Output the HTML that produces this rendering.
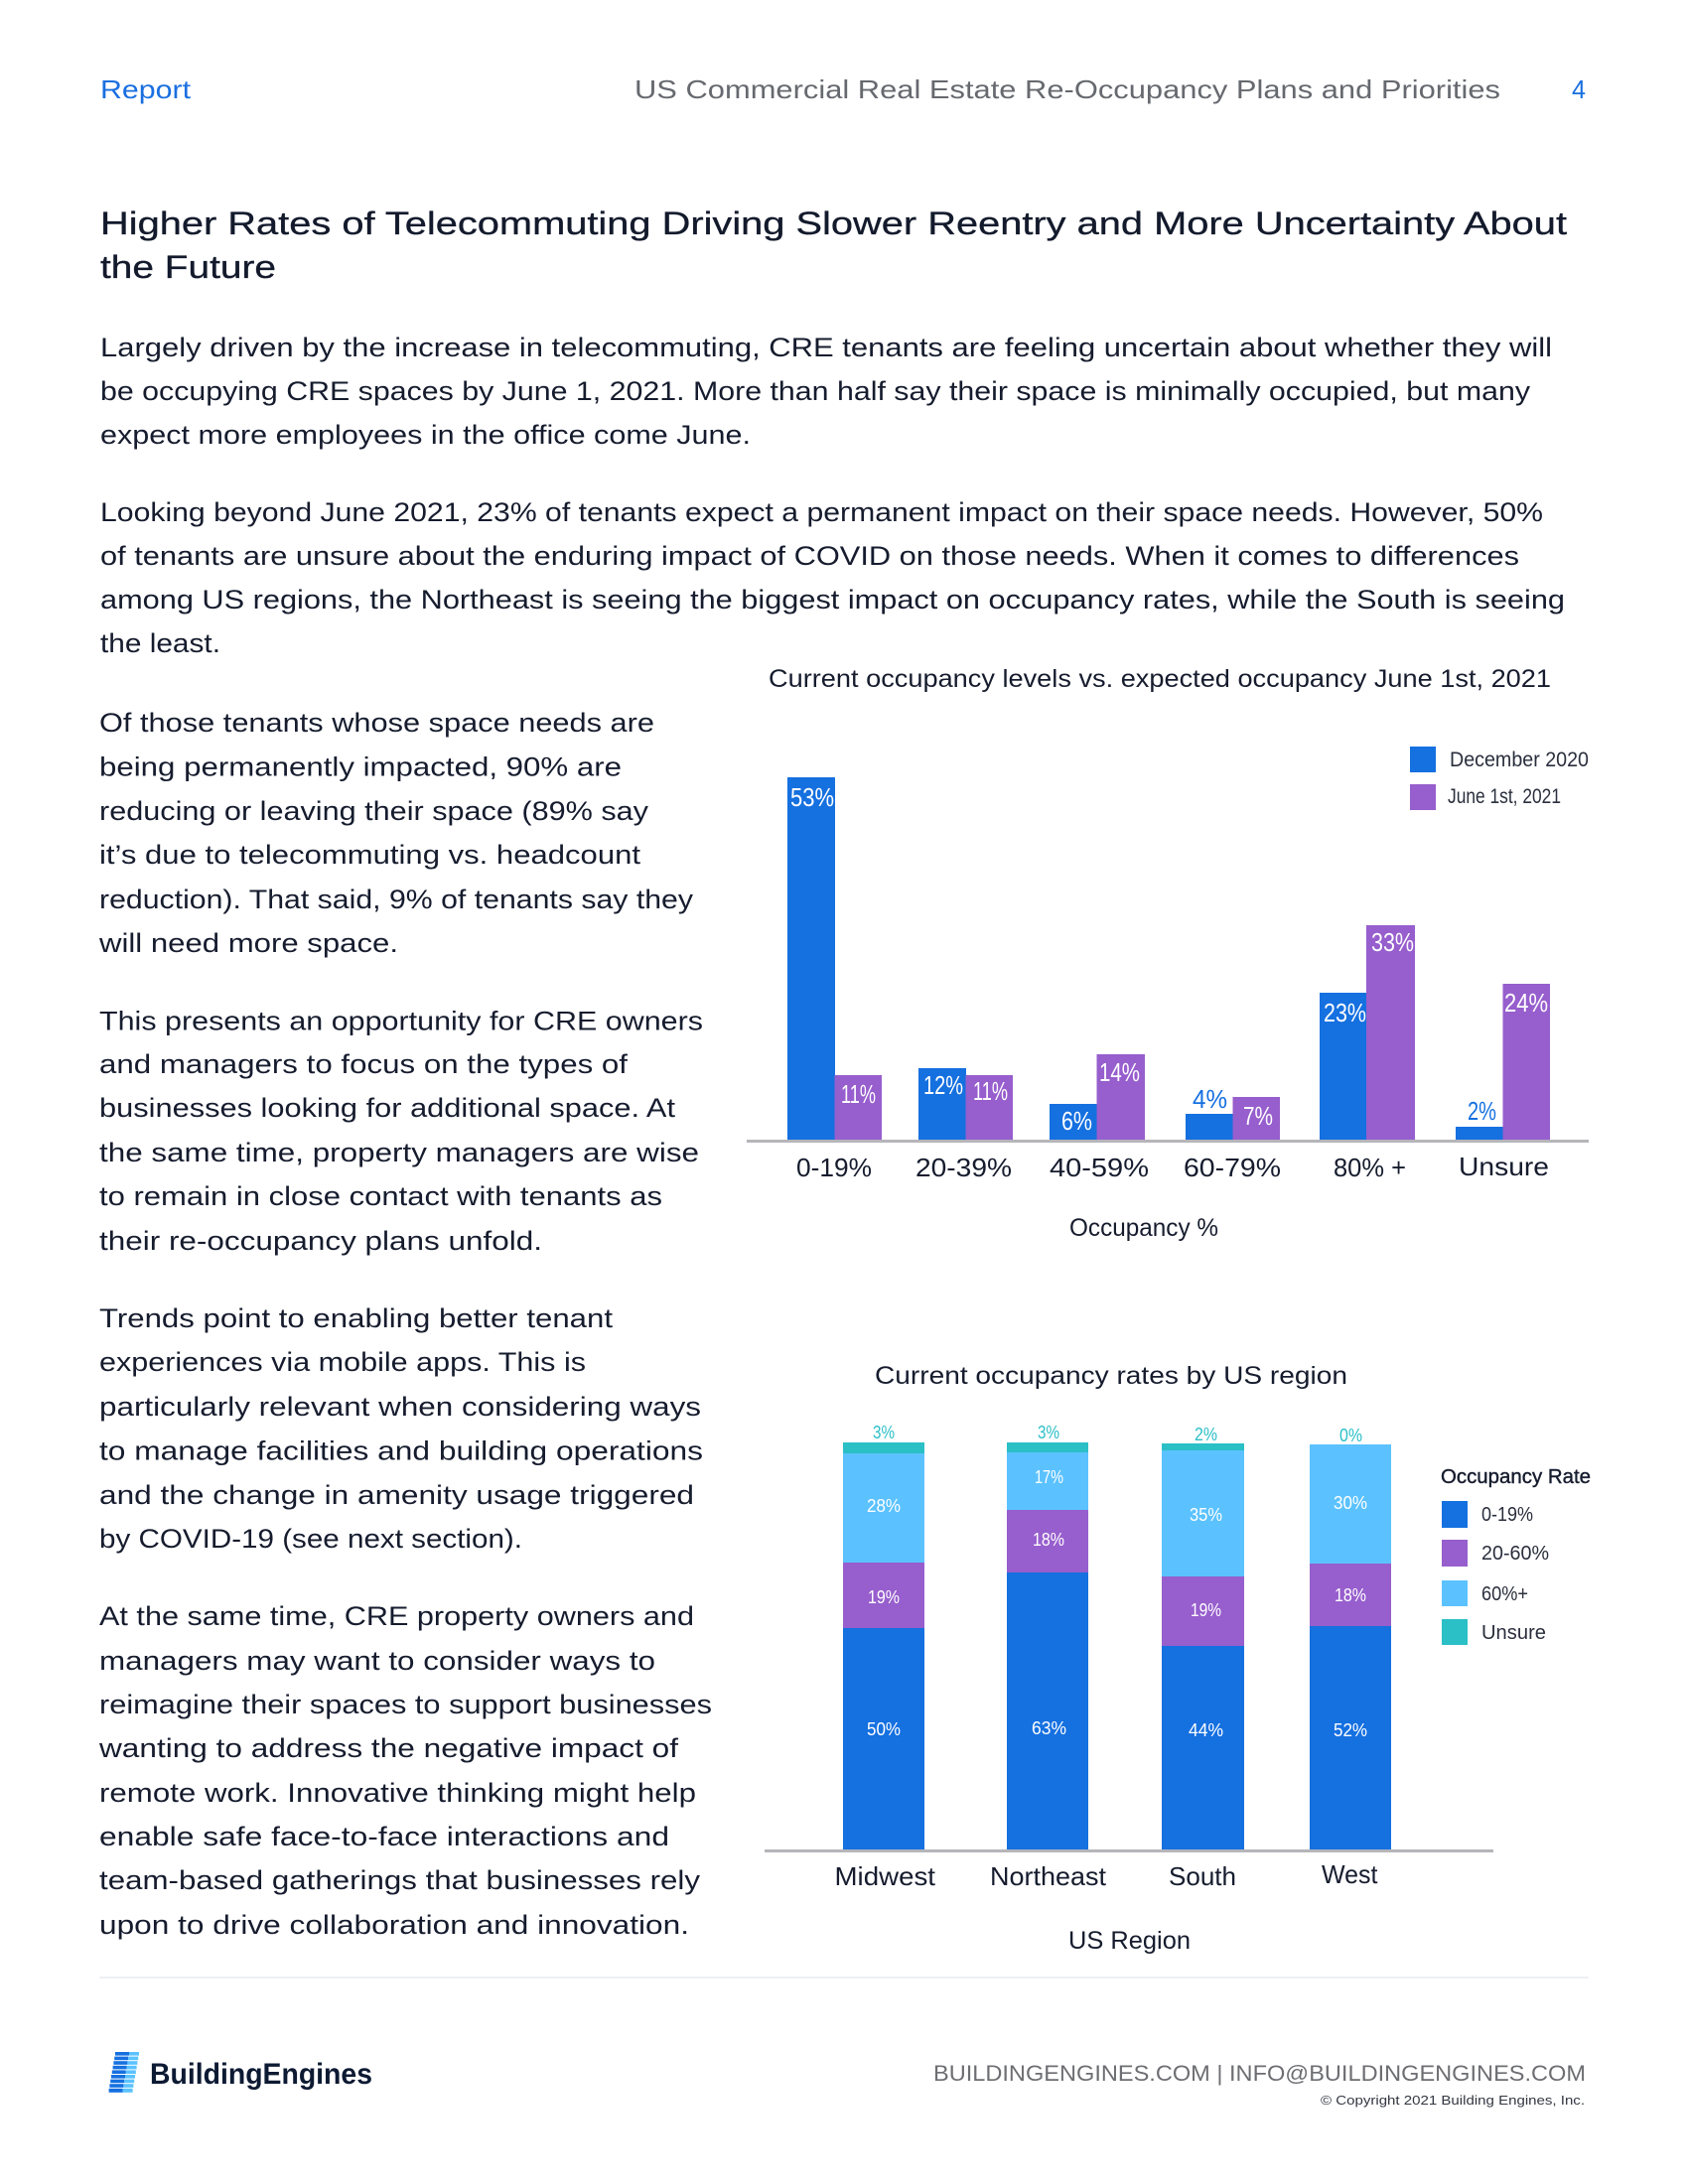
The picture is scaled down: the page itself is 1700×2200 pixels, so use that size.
<!DOCTYPE html>
<html>
<head>
<meta charset="utf-8">
<style>
html,body{margin:0;padding:0;background:#fff;}
svg{display:block;}
text{font-family:"Liberation Sans",sans-serif;}
</style>
</head>
<body>
<svg width="1700" height="2200" viewBox="0 0 1700 2200" xmlns="http://www.w3.org/2000/svg">
<rect x="0" y="0" width="1700" height="2200" fill="#ffffff"/>

<!-- Header -->
<text x="101" y="99" font-size="26" fill="#1a6fe0" textLength="91" lengthAdjust="spacingAndGlyphs">Report</text>
<text x="639" y="99" font-size="26" fill="#66696f" textLength="872" lengthAdjust="spacingAndGlyphs">US Commercial Real Estate Re-Occupancy Plans and Priorities</text>
<text x="1583" y="99" font-size="26" fill="#1a6fe0" textLength="14" lengthAdjust="spacingAndGlyphs">4</text>

<!-- Heading -->
<g fill="#131a2c" stroke="#131a2c" stroke-width="0.3" font-size="32">
<text x="101" y="236" textLength="1477" lengthAdjust="spacingAndGlyphs">Higher Rates of Telecommuting Driving Slower Reentry and More Uncertainty About</text>
<text x="101" y="280" textLength="177" lengthAdjust="spacingAndGlyphs">the Future</text>
</g>

<!-- Body paragraphs -->
<g fill="#161c2e" font-size="27">
<text x="101" y="359" textLength="1462" lengthAdjust="spacingAndGlyphs">Largely driven by the increase in telecommuting, CRE tenants are feeling uncertain about whether they will</text>
<text x="101" y="403" textLength="1440" lengthAdjust="spacingAndGlyphs">be occupying CRE spaces by June 1, 2021. More than half say their space is minimally occupied, but many</text>
<text x="101" y="447" textLength="655" lengthAdjust="spacingAndGlyphs">expect more employees in the office come June.</text>

<text x="101" y="525" textLength="1453" lengthAdjust="spacingAndGlyphs">Looking beyond June 2021, 23% of tenants expect a permanent impact on their space needs. However, 50%</text>
<text x="101" y="569" textLength="1429" lengthAdjust="spacingAndGlyphs">of tenants are unsure about the enduring impact of COVID on those needs. When it comes to differences</text>
<text x="101" y="613" textLength="1475" lengthAdjust="spacingAndGlyphs">among US regions, the Northeast is seeing the biggest impact on occupancy rates, while the South is seeing</text>
<text x="101" y="657" textLength="121" lengthAdjust="spacingAndGlyphs">the least.</text>

<!-- Left column -->
<text x="100" y="737" textLength="559" lengthAdjust="spacingAndGlyphs">Of those tenants whose space needs are</text>
<text x="100" y="781.5" textLength="526" lengthAdjust="spacingAndGlyphs">being permanently impacted, 90% are</text>
<text x="100" y="826" textLength="553" lengthAdjust="spacingAndGlyphs">reducing or leaving their space (89% say</text>
<text x="100" y="870" textLength="545" lengthAdjust="spacingAndGlyphs">it’s due to telecommuting vs. headcount</text>
<text x="100" y="915" textLength="598" lengthAdjust="spacingAndGlyphs">reduction). That said, 9% of tenants say they</text>
<text x="100" y="959" textLength="301" lengthAdjust="spacingAndGlyphs">will need more space.</text>

<text x="100" y="1037.5" textLength="608" lengthAdjust="spacingAndGlyphs">This presents an opportunity for CRE owners</text>
<text x="100" y="1081" textLength="532" lengthAdjust="spacingAndGlyphs">and managers to focus on the types of</text>
<text x="100" y="1125" textLength="580" lengthAdjust="spacingAndGlyphs">businesses looking for additional space. At</text>
<text x="100" y="1170" textLength="604" lengthAdjust="spacingAndGlyphs">the same time, property managers are wise</text>
<text x="100" y="1214" textLength="567" lengthAdjust="spacingAndGlyphs">to remain in close contact with tenants as</text>
<text x="100" y="1259" textLength="446" lengthAdjust="spacingAndGlyphs">their re-occupancy plans unfold.</text>

<text x="100" y="1337" textLength="517" lengthAdjust="spacingAndGlyphs">Trends point to enabling better tenant</text>
<text x="100" y="1381" textLength="490" lengthAdjust="spacingAndGlyphs">experiences via mobile apps. This is</text>
<text x="100" y="1426" textLength="606" lengthAdjust="spacingAndGlyphs">particularly relevant when considering ways</text>
<text x="100" y="1470.5" textLength="608" lengthAdjust="spacingAndGlyphs">to manage facilities and building operations</text>
<text x="100" y="1515" textLength="599" lengthAdjust="spacingAndGlyphs">and the change in amenity usage triggered</text>
<text x="100" y="1559" textLength="426" lengthAdjust="spacingAndGlyphs">by COVID-19 (see next section).</text>

<text x="100" y="1637" textLength="599" lengthAdjust="spacingAndGlyphs">At the same time, CRE property owners and</text>
<text x="100" y="1682" textLength="560" lengthAdjust="spacingAndGlyphs">managers may want to consider ways to</text>
<text x="100" y="1726" textLength="617" lengthAdjust="spacingAndGlyphs">reimagine their spaces to support businesses</text>
<text x="100" y="1770" textLength="583" lengthAdjust="spacingAndGlyphs">wanting to address the negative impact of</text>
<text x="100" y="1815" textLength="601" lengthAdjust="spacingAndGlyphs">remote work. Innovative thinking might help</text>
<text x="100" y="1859" textLength="574" lengthAdjust="spacingAndGlyphs">enable safe face-to-face interactions and</text>
<text x="100" y="1903" textLength="605" lengthAdjust="spacingAndGlyphs">team-based gatherings that businesses rely</text>
<text x="100" y="1948" textLength="594" lengthAdjust="spacingAndGlyphs">upon to drive collaboration and innovation.</text>
</g>

<!-- Chart 1 -->
<text x="774" y="692" font-size="25" fill="#161c2e" textLength="788" lengthAdjust="spacingAndGlyphs">Current occupancy levels vs. expected occupancy June 1st, 2021</text>

<rect x="1420" y="752" width="26" height="26" fill="#1570e0"/>
<rect x="1420" y="790" width="26" height="26" fill="#975ecd"/>
<text x="1460" y="772" font-size="21" fill="#2a2f3d" textLength="140" lengthAdjust="spacingAndGlyphs">December 2020</text>
<text x="1458" y="809" font-size="21" fill="#2a2f3d" textLength="114" lengthAdjust="spacingAndGlyphs">June 1st, 2021</text>

<g fill="#1570e0">
<rect x="793" y="783" width="48" height="365"/>
<rect x="925" y="1076" width="48" height="72"/>
<rect x="1057" y="1112" width="48" height="36"/>
<rect x="1194" y="1122" width="48" height="26"/>
<rect x="1329" y="1000" width="47.5" height="148"/>
<rect x="1466" y="1135" width="48" height="13"/>
</g>
<g fill="#975ecd">
<rect x="840.5" y="1083" width="47.5" height="65"/>
<rect x="972.5" y="1083" width="47.5" height="65"/>
<rect x="1104.5" y="1062" width="48.5" height="86"/>
<rect x="1241.5" y="1105" width="47.5" height="43"/>
<rect x="1376" y="932" width="49" height="216"/>
<rect x="1513.5" y="991" width="47.5" height="157"/>
</g>
<rect x="752" y="1148" width="848" height="3" fill="#b5b5ba"/>

<g font-size="26" fill="#ffffff">
<text x="796" y="812" textLength="44" lengthAdjust="spacingAndGlyphs">53%</text>
<text x="847" y="1111" textLength="35" lengthAdjust="spacingAndGlyphs">11%</text>
<text x="930" y="1102" textLength="40" lengthAdjust="spacingAndGlyphs">12%</text>
<text x="980" y="1108" textLength="35" lengthAdjust="spacingAndGlyphs">11%</text>
<text x="1069" y="1138" textLength="31" lengthAdjust="spacingAndGlyphs">6%</text>
<text x="1107" y="1089" textLength="41" lengthAdjust="spacingAndGlyphs">14%</text>
<text x="1252" y="1133" textLength="30" lengthAdjust="spacingAndGlyphs">7%</text>
<text x="1333" y="1029" textLength="43" lengthAdjust="spacingAndGlyphs">23%</text>
<text x="1381" y="958" textLength="43" lengthAdjust="spacingAndGlyphs">33%</text>
<text x="1515" y="1019" textLength="44" lengthAdjust="spacingAndGlyphs">24%</text>
</g>
<g font-size="26" fill="#1570e0">
<text x="1201" y="1116" textLength="35" lengthAdjust="spacingAndGlyphs">4%</text>
<text x="1478" y="1128" textLength="29" lengthAdjust="spacingAndGlyphs">2%</text>
</g>

<g font-size="26" fill="#161c2e">
<text x="802" y="1185" textLength="76" lengthAdjust="spacingAndGlyphs">0-19%</text>
<text x="922" y="1185" textLength="97" lengthAdjust="spacingAndGlyphs">20-39%</text>
<text x="1057" y="1185" textLength="100" lengthAdjust="spacingAndGlyphs">40-59%</text>
<text x="1192" y="1185" textLength="98" lengthAdjust="spacingAndGlyphs">60-79%</text>
<text x="1343" y="1185" textLength="73" lengthAdjust="spacingAndGlyphs">80% +</text>
<text x="1469" y="1184" textLength="91" lengthAdjust="spacingAndGlyphs">Unsure</text>
</g>
<text x="1077" y="1245" font-size="25" fill="#161c2e" textLength="150" lengthAdjust="spacingAndGlyphs">Occupancy %</text>

<!-- Chart 2 -->
<text x="881" y="1394" font-size="25" fill="#161c2e" textLength="476" lengthAdjust="spacingAndGlyphs">Current occupancy rates by US region</text>

<!-- Midwest -->
<rect x="849" y="1453" width="82" height="11" fill="#2bbfc6"/>
<rect x="849" y="1464" width="82" height="110" fill="#5bc2ff"/>
<rect x="849" y="1574" width="82" height="66" fill="#975ecd"/>
<rect x="849" y="1640" width="82" height="224" fill="#1570e0"/>
<!-- Northeast -->
<rect x="1014" y="1453" width="82" height="10" fill="#2bbfc6"/>
<rect x="1014" y="1463" width="82" height="58" fill="#5bc2ff"/>
<rect x="1014" y="1521" width="82" height="63" fill="#975ecd"/>
<rect x="1014" y="1584" width="82" height="280" fill="#1570e0"/>
<!-- South -->
<rect x="1170" y="1454" width="83" height="7" fill="#2bbfc6"/>
<rect x="1170" y="1461" width="83" height="127" fill="#5bc2ff"/>
<rect x="1170" y="1588" width="83" height="70" fill="#975ecd"/>
<rect x="1170" y="1658" width="83" height="206" fill="#1570e0"/>
<!-- West -->
<rect x="1319" y="1455" width="82" height="120" fill="#5bc2ff"/>
<rect x="1319" y="1575" width="82" height="63" fill="#975ecd"/>
<rect x="1319" y="1638" width="82" height="226" fill="#1570e0"/>

<rect x="770" y="1863" width="734" height="3" fill="#b5b5ba"/>

<g font-size="18.5" fill="#2bbfc6">
<text x="879" y="1449" textLength="22" lengthAdjust="spacingAndGlyphs">3%</text>
<text x="1045" y="1449" textLength="22" lengthAdjust="spacingAndGlyphs">3%</text>
<text x="1203" y="1451" textLength="23" lengthAdjust="spacingAndGlyphs">2%</text>
<text x="1349" y="1452" textLength="23" lengthAdjust="spacingAndGlyphs">0%</text>
</g>
<g font-size="18.5" fill="#ffffff">
<text x="873" y="1523" textLength="34" lengthAdjust="spacingAndGlyphs">28%</text>
<text x="874" y="1615" textLength="32" lengthAdjust="spacingAndGlyphs">19%</text>
<text x="873" y="1748" textLength="34" lengthAdjust="spacingAndGlyphs">50%</text>
<text x="1042" y="1494" textLength="29" lengthAdjust="spacingAndGlyphs">17%</text>
<text x="1040" y="1557" textLength="32" lengthAdjust="spacingAndGlyphs">18%</text>
<text x="1039" y="1747" textLength="35" lengthAdjust="spacingAndGlyphs">63%</text>
<text x="1198" y="1532" textLength="33" lengthAdjust="spacingAndGlyphs">35%</text>
<text x="1199" y="1628" textLength="31" lengthAdjust="spacingAndGlyphs">19%</text>
<text x="1197" y="1749" textLength="35" lengthAdjust="spacingAndGlyphs">44%</text>
<text x="1343" y="1520" textLength="34" lengthAdjust="spacingAndGlyphs">30%</text>
<text x="1344" y="1613" textLength="32" lengthAdjust="spacingAndGlyphs">18%</text>
<text x="1343" y="1749" textLength="34" lengthAdjust="spacingAndGlyphs">52%</text>
</g>

<!-- Legend chart 2 -->
<text x="1451" y="1494" font-size="20" fill="#161c2e" stroke="#161c2e" stroke-width="0.4" textLength="151" lengthAdjust="spacingAndGlyphs">Occupancy Rate</text>
<rect x="1452" y="1512" width="26" height="27" fill="#1570e0"/>
<rect x="1452" y="1551" width="26" height="27" fill="#975ecd"/>
<rect x="1452" y="1592" width="26" height="26" fill="#5bc2ff"/>
<rect x="1452" y="1631" width="26" height="26" fill="#2bbfc6"/>
<g font-size="20.5" fill="#2a2f3d">
<text x="1492" y="1532" textLength="52" lengthAdjust="spacingAndGlyphs">0-19%</text>
<text x="1492" y="1571" textLength="68" lengthAdjust="spacingAndGlyphs">20-60%</text>
<text x="1492" y="1612" textLength="47" lengthAdjust="spacingAndGlyphs">60%+</text>
<text x="1492" y="1651" textLength="65" lengthAdjust="spacingAndGlyphs">Unsure</text>
</g>

<g font-size="26" fill="#161c2e">
<text x="840.5" y="1899" textLength="101.5" lengthAdjust="spacingAndGlyphs">Midwest</text>
<text x="997" y="1899" textLength="117" lengthAdjust="spacingAndGlyphs">Northeast</text>
<text x="1177" y="1899" textLength="68" lengthAdjust="spacingAndGlyphs">South</text>
<text x="1331" y="1897" textLength="56.5" lengthAdjust="spacingAndGlyphs">West</text>
</g>
<text x="1076" y="1963" font-size="25" fill="#161c2e" textLength="123" lengthAdjust="spacingAndGlyphs">US Region</text>

<!-- Divider -->
<rect x="100" y="1991" width="1500" height="2" fill="#eef0f3"/>

<!-- Footer logo -->
<g>
<rect x="116" y="2067" width="14" height="3.6" fill="#1570e0"/><rect x="130" y="2067" width="10" height="3.6" fill="#5bc2ff"/>
<rect x="115.2" y="2071.6" width="14" height="3.6" fill="#1570e0"/><rect x="129.2" y="2071.6" width="10" height="3.6" fill="#5bc2ff"/>
<rect x="114.4" y="2076.2" width="14" height="3.6" fill="#1570e0"/><rect x="128.4" y="2076.2" width="10" height="3.6" fill="#5bc2ff"/>
<rect x="113.6" y="2080.8" width="14" height="3.6" fill="#1570e0"/><rect x="127.6" y="2080.8" width="10" height="3.6" fill="#5bc2ff"/>
<rect x="112.8" y="2085.4" width="14" height="3.6" fill="#1570e0"/><rect x="126.8" y="2085.4" width="10" height="3.6" fill="#5bc2ff"/>
<rect x="112" y="2090" width="14" height="3.6" fill="#1570e0"/><rect x="126" y="2090" width="10" height="3.6" fill="#5bc2ff"/>
<rect x="111.2" y="2094.6" width="14" height="3.6" fill="#1570e0"/><rect x="125.2" y="2094.6" width="10" height="3.6" fill="#5bc2ff"/>
<rect x="110.4" y="2099.2" width="14" height="3.6" fill="#1570e0"/><rect x="124.4" y="2099.2" width="10" height="3.6" fill="#5bc2ff"/>
<rect x="109.6" y="2103.8" width="14" height="4" fill="#1570e0"/><rect x="123.6" y="2103.8" width="10" height="4" fill="#5bc2ff"/>
</g>
<text x="151" y="2099" font-size="30" font-weight="bold" fill="#0d1a33" textLength="224" lengthAdjust="spacingAndGlyphs">BuildingEngines</text>

<text x="940" y="2096" font-size="22" fill="#6d6e72" textLength="657" lengthAdjust="spacingAndGlyphs">BUILDINGENGINES.COM | INFO@BUILDINGENGINES.COM</text>
<text x="1330" y="2120" font-size="13" fill="#333742" textLength="266" lengthAdjust="spacingAndGlyphs">© Copyright 2021 Building Engines, Inc.</text>
</svg>
</body>
</html>
